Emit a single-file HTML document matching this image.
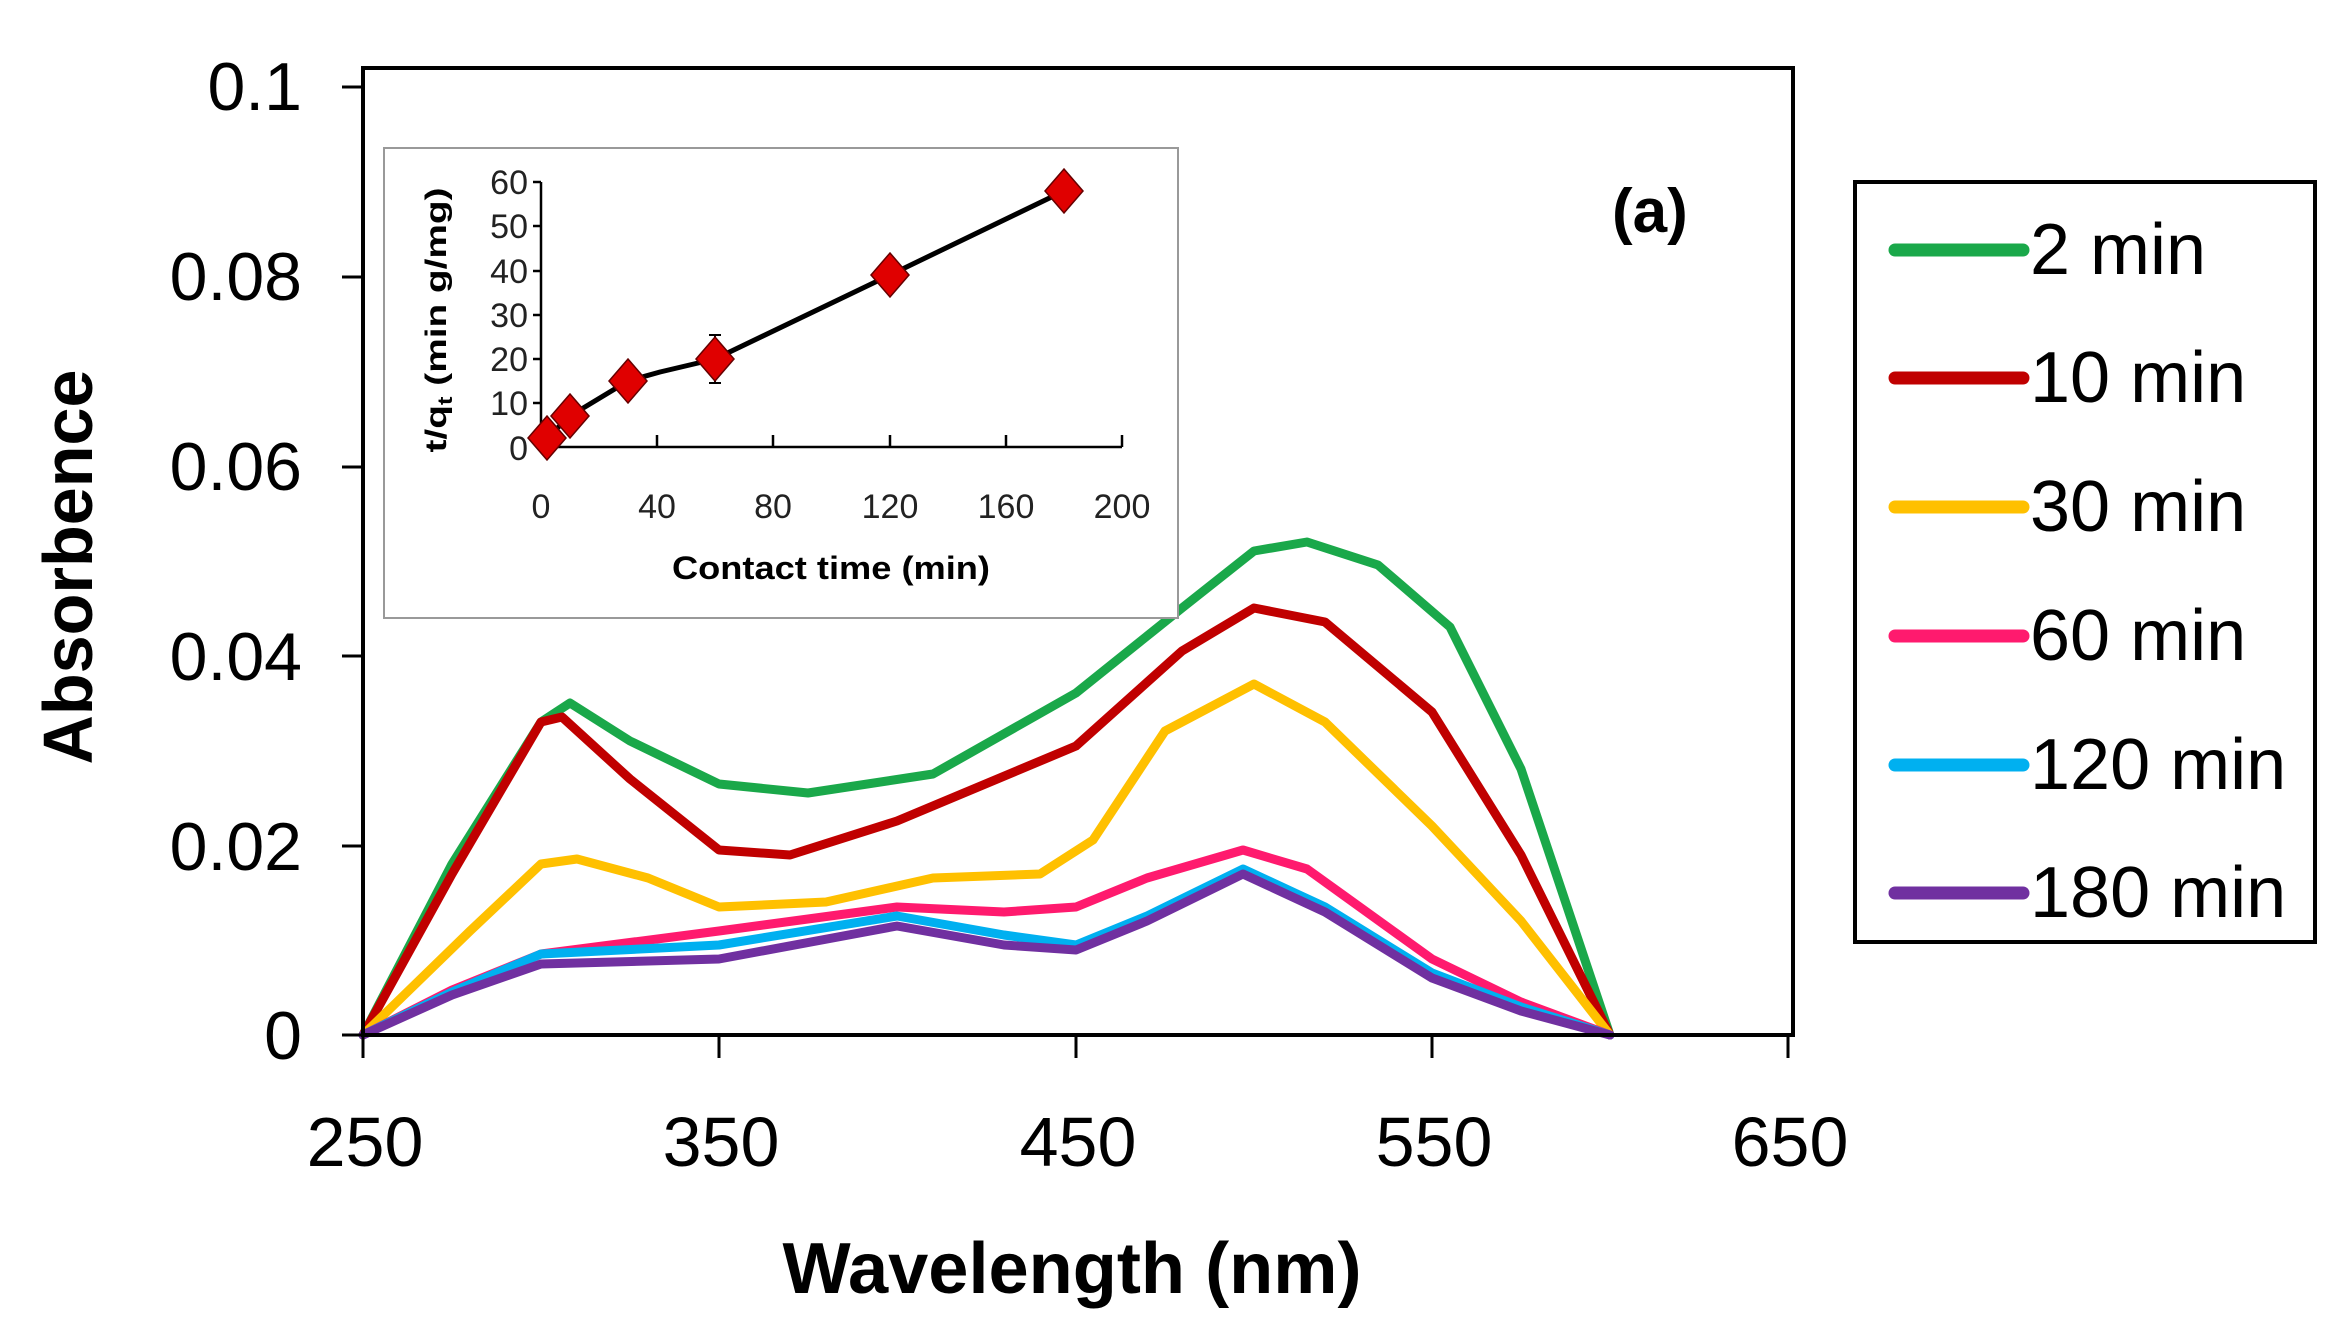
<!DOCTYPE html>
<html><head><meta charset="utf-8"><style>html,body{margin:0;padding:0;background:#fff}svg{display:block}</style></head>
<body>
<svg width="2352" height="1332" viewBox="0 0 2352 1332" xmlns="http://www.w3.org/2000/svg" font-family="Liberation Sans, Arial, sans-serif">
<rect width="2352" height="1332" fill="#fff"/>
<g fill="none" stroke-width="9" stroke-linejoin="round" stroke-linecap="round">
<polyline stroke="#1aa84a" points="363,1035 452,864 541,722 570,703 630,741 719,784 808,793 933,774 1076,693 1182,608 1254,551 1307,542 1378,565 1450,627 1521,769 1610,1035"/>
<polyline stroke="#c00000" points="363,1035 452,874 541,722 562,717 630,779 719,850 790,855 897,821 1076,746 1182,651 1254,608 1325,622 1432,712 1521,855 1610,1035"/>
<polyline stroke="#ffc000" points="363,1035 470,931 541,864 577,859 648,878 719,907 826,902 933,878 1040,874 1093,840 1165,731 1254,684 1325,722 1432,826 1521,921 1610,1035"/>
<polyline stroke="#ff1a6e" points="363,1035 452,990 541,954 719,931 897,907 1004,912 1076,907 1147,878 1243,850 1307,869 1432,959 1521,1002 1610,1035"/>
<polyline stroke="#00b0f0" points="363,1035 452,992 541,954 719,945 897,916 1004,935 1076,945 1147,916 1243,869 1325,907 1432,973 1521,1007 1610,1035"/>
<polyline stroke="#7030a0" points="363,1035 452,995 541,964 719,959 897,926 1004,945 1076,950 1147,921 1243,874 1325,912 1432,978 1521,1011 1610,1035"/>
</g>
<rect x="363" y="68" width="1430" height="967" fill="none" stroke="#000" stroke-width="4"/>
<g stroke="#000" stroke-width="3">
<line x1="342" y1="87" x2="363" y2="87"/><line x1="342" y1="277" x2="363" y2="277"/><line x1="342" y1="467" x2="363" y2="467"/><line x1="342" y1="656" x2="363" y2="656"/><line x1="342" y1="846" x2="363" y2="846"/><line x1="342" y1="1035" x2="363" y2="1035"/>
<line x1="363" y1="1035" x2="363" y2="1058"/><line x1="719" y1="1035" x2="719" y2="1058"/><line x1="1076" y1="1035" x2="1076" y2="1058"/><line x1="1432" y1="1035" x2="1432" y2="1058"/><line x1="1788" y1="1035" x2="1788" y2="1058"/>
</g>
<g font-size="68" text-anchor="end" fill="#000">
<text x="302" y="110">0.1</text><text x="302" y="300">0.08</text><text x="302" y="490">0.06</text><text x="302" y="680">0.04</text><text x="302" y="870">0.02</text><text x="302" y="1059">0</text>
</g>
<g font-size="70" text-anchor="middle" fill="#000">
<text x="365" y="1166">250</text><text x="721" y="1166">350</text><text x="1078" y="1166">450</text><text x="1434" y="1166">550</text><text x="1790" y="1166">650</text>
</g>
<text x="1072" y="1293" font-size="72" font-weight="bold" text-anchor="middle" textLength="579" lengthAdjust="spacingAndGlyphs">Wavelength (nm)</text>
<text transform="translate(92,567) rotate(-90)" font-size="70" font-weight="bold" text-anchor="middle" textLength="395" lengthAdjust="spacingAndGlyphs">Absorbence</text>
<text x="1612" y="232" font-size="62" font-weight="bold">(a)</text>
<rect x="1855" y="182" width="460" height="760" fill="#fff" stroke="#000" stroke-width="4"/>
<g stroke-width="13" stroke-linecap="round">
<line x1="1895" y1="250" x2="2023" y2="250" stroke="#1aa84a"/>
<line x1="1895" y1="378" x2="2023" y2="378" stroke="#c00000"/>
<line x1="1895" y1="507" x2="2023" y2="507" stroke="#ffc000"/>
<line x1="1895" y1="636" x2="2023" y2="636" stroke="#ff1a6e"/>
<line x1="1895" y1="765" x2="2023" y2="765" stroke="#00b0f0"/>
<line x1="1895" y1="893" x2="2023" y2="893" stroke="#7030a0"/>
</g>
<g font-size="72" fill="#000">
<text x="2030" y="274">2 min</text><text x="2030" y="402">10 min</text><text x="2030" y="531">30 min</text><text x="2030" y="660">60 min</text><text x="2030" y="789">120 min</text><text x="2030" y="917">180 min</text>
</g>
<rect x="384" y="148" width="794" height="470" fill="#fff" stroke="#999" stroke-width="2"/>
<g stroke="#000" stroke-width="2.5">
<line x1="541" y1="182" x2="541" y2="447"/><line x1="541" y1="447" x2="1122" y2="447"/>
<line x1="533" y1="182" x2="541" y2="182"/><line x1="533" y1="226" x2="541" y2="226"/><line x1="533" y1="271" x2="541" y2="271"/><line x1="533" y1="315" x2="541" y2="315"/><line x1="533" y1="359" x2="541" y2="359"/><line x1="533" y1="403" x2="541" y2="403"/>
<line x1="657" y1="447" x2="657" y2="435"/><line x1="773" y1="447" x2="773" y2="435"/><line x1="890" y1="447" x2="890" y2="435"/><line x1="1006" y1="447" x2="1006" y2="435"/><line x1="1122" y1="447" x2="1122" y2="435"/>
</g>
<g font-size="34" text-anchor="end" fill="#222">
<text x="528" y="194">60</text><text x="528" y="238">50</text><text x="528" y="283">40</text><text x="528" y="327">30</text><text x="528" y="371">20</text><text x="528" y="415">10</text><text x="528" y="460">0</text>
</g>
<g font-size="34" text-anchor="middle" fill="#222">
<text x="541" y="518">0</text><text x="657" y="518">40</text><text x="773" y="518">80</text><text x="890" y="518">120</text><text x="1006" y="518">160</text><text x="1122" y="518">200</text>
</g>
<text x="831" y="579" font-size="32" font-weight="bold" text-anchor="middle" textLength="318" lengthAdjust="spacingAndGlyphs">Contact time (min)</text>
<text transform="translate(446,320) rotate(-90)" font-size="30" font-weight="bold" text-anchor="middle" textLength="265" lengthAdjust="spacingAndGlyphs">t/q<tspan font-size="20" dy="6">t</tspan><tspan dy="-6"> (min g/mg)</tspan></text>
<polyline points="547,438 570,416 628,381 715,359 890,275 1064,191" fill="none" stroke="#888" stroke-width="2"/>
<polyline points="547,438 570,416 628,381 660,372 715,359 890,275 1064,191" fill="none" stroke="#000" stroke-width="5" stroke-linejoin="round"/>
<g stroke="#000" stroke-width="2"><line x1="715" y1="335" x2="715" y2="383"/><line x1="709" y1="335" x2="721" y2="335"/><line x1="709" y1="383" x2="721" y2="383"/></g>
<g fill="#e00000" stroke="#600" stroke-width="1.5">
<polygon points="547,416 566,438 547,460 528,438"/>
<polygon points="570,394 589,416 570,438 551,416"/>
<polygon points="628,359 647,381 628,403 609,381"/>
<polygon points="715,337 734,359 715,381 696,359"/>
<polygon points="890,253 909,275 890,297 871,275"/>
<polygon points="1064,169 1083,191 1064,213 1045,191"/>
</g>
</svg>
</body></html>
